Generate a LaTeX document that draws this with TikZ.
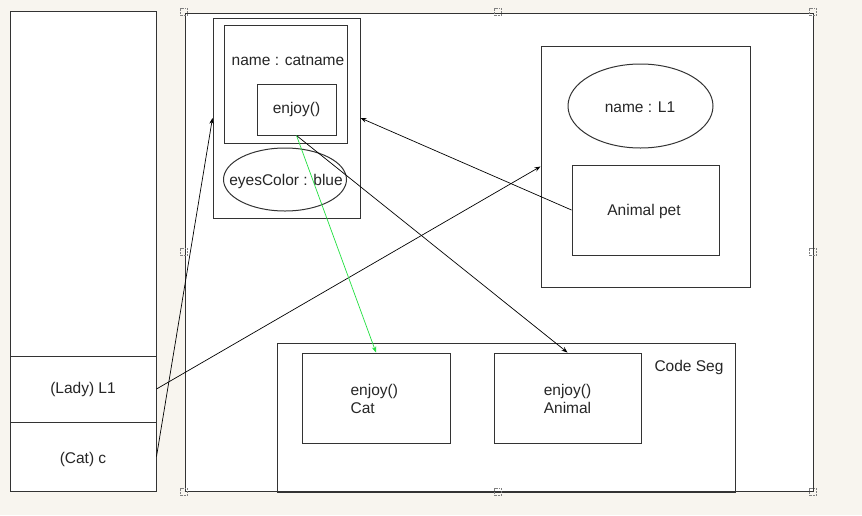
\documentclass[tikz,border=0pt]{standalone}
\usepackage{fontspec}
\setmainfont{Liberation Sans}
\usetikzlibrary{arrows.meta,shapes.geometric}
\definecolor{bgc}{HTML}{F8F5EF}
\definecolor{ln}{HTML}{333333}
\definecolor{grn}{HTML}{22E040}
\tikzset{
  box/.style={draw=ln, line width=1pt, fill=white, inner sep=0pt, rectangle},
  oval/.style={draw=ln, line width=1pt, fill=white, inner sep=0pt, ellipse},
  lbl/.style={font=\fontsize{15.5}{17.5}\selectfont, text=black!85, inner sep=0pt},
  conn/.style={draw=black, line width=0.7pt, -{Stealth[length=6pt,width=4.5pt]}},
  gconn/.style={draw=grn, line width=0.7pt, -{Stealth[length=6pt,width=4.5pt]}},
  handle/.style={draw=gray, densely dotted, line width=0.6pt, minimum size=7pt, inner sep=0pt, rectangle},
}
\begin{document}
\begin{tikzpicture}[x=1pt,y=-1pt]
\fill[bgc] (0,0) rectangle (862,515);
\useasboundingbox (0,0) rectangle (862,515);
% left stack
\node[box, minimum width=146pt, minimum height=345pt] (stack) at (83,183.5) {};
\node[box, minimum width=146pt, minimum height=66pt] (lady) at (83,389) {};
\node[box, minimum width=146pt, minimum height=69pt] (catc) at (83,456.5) {};
\node[lbl] (ladyt) at (83,389) {(Lady) L1};
\node[lbl] (catct) at (83,459) {(Cat) c};
% main box
\node[box, minimum width=628pt, minimum height=478pt] (main) at (499,252) {};
% cat object
\node[box, minimum width=147pt, minimum height=200pt] (catobj) at (286.5,118) {};
\node[box, minimum width=123pt, minimum height=118pt] (catin) at (285.5,84) {};
\node[lbl] (catname) at (288,61) {name : catname};
\node[box, minimum width=79pt, minimum height=51pt] (enjoy) at (296.5,109.5) {};
\node[lbl] (enjoyt) at (296.5,109) {enjoy()};
\node[oval, minimum width=123pt, minimum height=63pt] (eyes) at (285,179.5) {};
\node[lbl] (eyest) at (286,181) {eyesColor : blue};
% lady object
\node[box, minimum width=209pt, minimum height=241pt] (ladyobj) at (645.5,166.5) {};
\node[oval, minimum width=145pt, minimum height=84pt] (nameL) at (640.5,106) {};
\node[lbl] (nameLt) at (640,107) {name : L1};
\node[box, minimum width=147pt, minimum height=90pt] (pet) at (645.5,210) {};
\node[lbl] (pett) at (644,211) {Animal pet};
% code segment
\node[box, minimum width=458pt, minimum height=149pt] (code) at (506,417.5) {};
\node[lbl] (codet) at (689,367) {Code Seg};
\node[box, minimum width=148pt, minimum height=90pt] (catcode) at (376,398) {};
\node[lbl, align=left] (catcodet) at (376,399) {enjoy()\\Cat\hphantom{oy()}};
\node[box, minimum width=147pt, minimum height=90pt] (animcode) at (567.5,398) {};
\node[lbl, align=left] (animcodet) at (567.5,399) {enjoy()\\Animal};
% redraw main bottom edge over code box
\draw[ln, line width=1pt] (main.south west) -- (main.south east);
% selection handles
\foreach \hx/\hy [count=\i] in {184/12, 498/12, 813/12, 184/252, 813/252, 184/492, 498/492, 813/492}
  \node[handle] (h\i) at (\hx,\hy) {};
% connectors
\draw[conn] (catc.east) -- (catobj.west);
\draw[conn] (lady.east) -- (ladyobj.west);
\draw[conn] (pet.west) -- (catobj.east);
\draw[conn] (enjoy.south) -- (animcode.north);
\draw[gconn] (enjoy.south) -- (catcode.north);
\end{tikzpicture}
\end{document}
